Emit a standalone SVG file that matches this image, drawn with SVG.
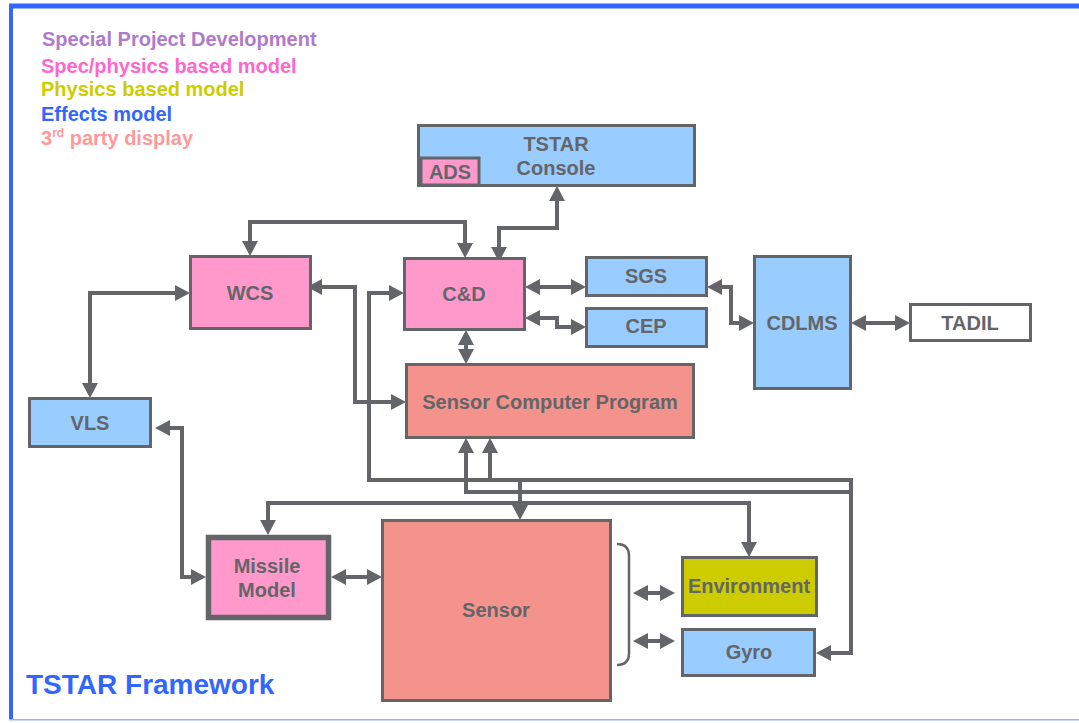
<svg xmlns="http://www.w3.org/2000/svg" width="1079" height="723" viewBox="0 0 1079 723">
<style>
text{font-family:"Liberation Sans",Arial,Helvetica,sans-serif;font-weight:bold;}
.n{font-size:20px;fill:#646569;text-anchor:middle;}
.lg{font-size:20px;}
.box{stroke:#646569;stroke-width:3;}
.pink{fill:#FF99CC;}
.blue{fill:#99CCFF;}
.sal{fill:#F4938C;}
.env{fill:#CCCC00;}
.wht{fill:#FFFFFF;}
.c2{fill:none;stroke:#646569;stroke-width:4;marker-start:url(#a);marker-end:url(#a);}
.c1{fill:none;stroke:#646569;stroke-width:4;marker-end:url(#a);}
</style>
<defs>
<marker id="a" markerUnits="userSpaceOnUse" markerWidth="16" markerHeight="16" viewBox="0 0 15 16" refX="1" refY="8" orient="auto-start-reverse">
<path d="M0,0 L15,8 L0,16 Z" fill="#646569"/>
</marker>
</defs>
<rect x="0" y="0" width="1079" height="723" fill="#FFFFFF"/>
<g id="frame">
<rect x="9" y="3" width="1070" height="1.5" fill="#99B3FF"/>
<rect x="9" y="4" width="1070" height="4.5" fill="#3366FF"/>
<rect x="9" y="4" width="4" height="716" fill="#3366FF"/>
<rect x="9" y="719" width="1070" height="1.5" fill="#99B3FF"/>
</g>
<g id="legend">
<text class="lg" x="42" y="46" fill="#AF7BC9">Special Project Development</text>
<text class="lg" x="41" y="72.5" fill="#FF66CC">Spec/physics based model</text>
<text class="lg" x="41" y="96" fill="#CCCC00">Physics based model</text>
<text class="lg" x="41" y="120.5" fill="#3366FF">Effects model</text>
<text class="lg" x="41" y="145" fill="#FF9999">3<tspan font-size="12" dy="-8">rd</tspan><tspan dy="8"> party display</tspan></text>
</g>
<text id="title" x="26" y="694" font-size="28" fill="#3366FF">TSTAR Framework</text>
<g id="connectors">
<path class="c2" d="M250,242 V222 H465 V244"/>
<path class="c2" d="M499,248 V228 H557 V200"/>
<path class="c2" d="M176,293 H90 V384"/>
<path class="c2" d="M169,428 H182 V577 H192"/>
<path class="c2" d="M321,287 H355 V402 H392"/>
<path class="c2" d="M390,293 H369 V480 H851 V653 H830"/>
<path class="c1" d="M490,480 V452"/>
<path class="c1" d="M520,480 V506"/>
<path class="c1" d="M851,492 H466 V452"/>
<path class="c2" d="M268,521 V503 H749 V543"/>
<path class="c2" d="M345,577 H368"/>
<path class="c2" d="M466,344 V350"/>
<path class="c2" d="M539,287 H572"/>
<path class="c2" d="M539,318 H557 V327 H572"/>
<path class="c2" d="M721,287 H731 V323 H740"/>
<path class="c2" d="M865,323 H896"/>
<path class="c2" d="M647,593 H661"/>
<path class="c2" d="M647,641 H661"/>
<path d="M617,544 Q629,544 629,556 V653 Q629,665 617,665" fill="none" stroke="#646569" stroke-width="2.5"/>
</g>
<g id="tstar">
<rect class="box blue" x="418.5" y="125.5" width="276" height="60"/>
<text class="n" x="556" y="151">TSTAR</text>
<text class="n" x="556" y="175">Console</text>
</g>
<g id="ads">
<rect class="box pink" x="421" y="158" width="58" height="27"/>
<text class="n" x="450" y="179">ADS</text>
</g>
<g id="wcs">
<rect class="box pink" x="190.5" y="256.5" width="120" height="72"/>
<text class="n" x="250" y="300">WCS</text>
</g>
<g id="cd">
<rect class="box pink" x="404.5" y="258.5" width="120" height="71"/>
<text class="n" x="464" y="301">C&amp;D</text>
</g>
<g id="sgs">
<rect class="box blue" x="586.5" y="257.5" width="120" height="38"/>
<text class="n" x="646" y="283">SGS</text>
</g>
<g id="cep">
<rect class="box blue" x="586.5" y="308.5" width="120" height="38"/>
<text class="n" x="646" y="333">CEP</text>
</g>
<g id="cdlms">
<rect class="box blue" x="754.5" y="256.5" width="96" height="132"/>
<text class="n" x="802" y="330">CDLMS</text>
</g>
<g id="tadil">
<rect class="box wht" x="910.5" y="304.5" width="120" height="36"/>
<text class="n" x="970" y="330">TADIL</text>
</g>
<g id="vls">
<rect class="box blue" x="29.5" y="398.5" width="121" height="48"/>
<text class="n" x="90" y="430">VLS</text>
</g>
<g id="scp">
<rect class="box sal" x="406.5" y="364.5" width="287" height="73"/>
<text class="n" x="550" y="409">Sensor Computer Program</text>
</g>
<g id="missile">
<rect class="pink" x="208.5" y="537.5" width="120" height="80" stroke="#646569" stroke-width="5.5"/>
<text class="n" x="267" y="573">Missile</text>
<text class="n" x="267" y="597">Model</text>
</g>
<g id="sensor">
<rect class="box sal" x="382.5" y="520.5" width="228" height="180"/>
<text class="n" x="496" y="617">Sensor</text>
</g>
<g id="environment">
<rect class="box env" x="682.5" y="557.5" width="134" height="58"/>
<text class="n" x="749" y="593">Environment</text>
</g>
<g id="gyro">
<rect class="box blue" x="682.5" y="629.5" width="132" height="46"/>
<text class="n" x="749" y="659">Gyro</text>
</g>
</svg>
